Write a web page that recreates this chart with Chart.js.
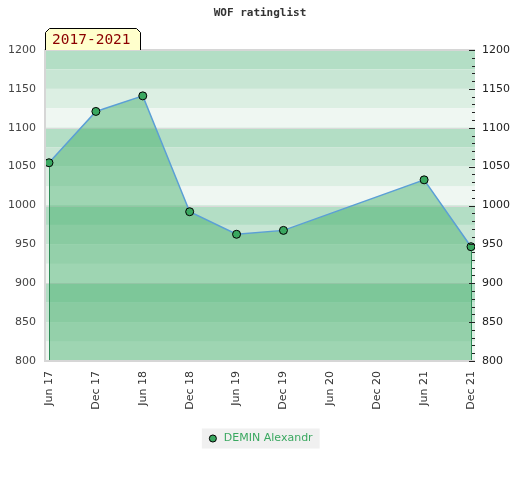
<!DOCTYPE html>
<html><head><meta charset="utf-8">
<script src="https://cdn.jsdelivr.net/npm/chart.js@4.4.1/dist/chart.umd.min.js"></script>
<style>html,body{margin:0;padding:0;background:#fff}canvas{display:block}</style></head>
<body><canvas id="c" width="520" height="480"></canvas>
<script>
const chartTitle = 'WOF ratinglist';
const periodLabel = '2017-2021';
const seriesName = 'DEMIN Alexandr';
const categories = ['Jun 17','Dec 17','Jun 18','Dec 18','Jun 19','Dec 19','Jun 20','Dec 20','Jun 21','Dec 21'];
const ratings = [1055, 1121, 1141, 992, 963, 968, null, null, 1033, 947];
const yMin = 800, yMax = 1200, yStep = 50, minorStep = 10, bandStep = 25;

const points = [];
ratings.forEach((v, i) => { if (v !== null) points.push({x: i, y: v}); });

const bandColors = ['#b3dec5', '#c8e6d4', '#dcefe3', '#eff7f2'];

const decor = {
  id: 'decor',
  beforeDraw(chart) {
    const {ctx, chartArea: a, scales: {y}} = chart;
    ctx.save();
    const lg = chart.legend;
    if (lg && lg.legendHitBoxes && lg.legendHitBoxes.length) {
      const h = lg.legendHitBoxes[0];
      const cy = h.top + h.height / 2;
      ctx.fillStyle = '#f0f0f0';
      ctx.fillRect(h.left - 5.5, cy - 10, h.width + 12.5, 20);
    }
    let k = 0;
    for (let v = yMax; v > yMin; v -= bandStep, k++) {
      const t = y.getPixelForValue(v), b = y.getPixelForValue(v - bandStep);
      ctx.fillStyle = bandColors[k % 4];
      ctx.fillRect(a.left, t, a.right - a.left, b - t);
    }
    ctx.strokeStyle = '#dadada';
    ctx.lineWidth = 1;
    for (let v = yMin + 100; v < yMax; v += 100) {
      const p = Math.round(y.getPixelForValue(v)) + 0.5;
      ctx.beginPath(); ctx.moveTo(a.left, p); ctx.lineTo(a.right, p); ctx.stroke();
    }
    ctx.restore();
  },
  afterDatasetsDraw(chart) {
    const {ctx, chartArea: a, scales: {y}} = chart;
    const meta = chart.getDatasetMeta(0);
    ctx.save();
    ctx.strokeStyle = '#2e8b57';
    ctx.lineWidth = 1;
    [meta.data[0], meta.data[meta.data.length - 1]].forEach(p => {
      const x = Math.round(p.x) + 0.5;
      ctx.beginPath(); ctx.moveTo(x, p.y + 4); ctx.lineTo(x, a.bottom); ctx.stroke();
    });
    // frame
    ctx.strokeStyle = '#d6d6d6';
    ctx.lineWidth = 2;
    ctx.beginPath();
    ctx.moveTo(a.right, a.top); ctx.lineTo(a.left, a.top); ctx.lineTo(a.left, a.bottom); ctx.lineTo(a.right, a.bottom);
    ctx.stroke();
    // right-side minor ticks
    ctx.strokeStyle = '#222';
    ctx.lineWidth = 1;
    for (let v = yMin; v <= yMax; v += minorStep) {
      const p = Math.round(y.getPixelForValue(v)) + 0.5;
      const len = (v % yStep === 0) ? 6 : 3;
      ctx.beginPath(); ctx.moveTo(a.right - len, p); ctx.lineTo(a.right, p); ctx.stroke();
    }
    ctx.restore();
  },
  afterDraw(chart) {
    const {ctx, chartArea: a} = chart;
    ctx.save();
    ctx.fillStyle = '#333';
    ctx.font = 'bold 11px "DejaVu Sans Mono"';
    ctx.textAlign = 'center';
    ctx.textBaseline = 'middle';
    ctx.fillText(chartTitle, 260, 13);
    // period box
    const L = a.left + 0.5, R = 140.5, T = 28.5, B = a.top;
    ctx.beginPath();
    ctx.moveTo(L, B); ctx.lineTo(L, T + 4); ctx.lineTo(L + 4, T); ctx.lineTo(R - 4, T); ctx.lineTo(R, T + 4); ctx.lineTo(R, B);
    ctx.fillStyle = '#ffffcc'; ctx.fill();
    ctx.strokeStyle = '#000'; ctx.lineWidth = 1; ctx.stroke();
    ctx.fillStyle = '#8b0000';
    ctx.font = '14.5px "DejaVu Sans Mono"';
    ctx.textAlign = 'left';
    ctx.textBaseline = 'middle';
    ctx.fillText(periodLabel, 52, 40);
    ctx.restore();
  }
};

new Chart(document.getElementById('c'), {
  type: 'line',
  data: {
    datasets: [{
      label: seriesName,
      data: points,
      borderColor: '#5b9fd6',
      borderWidth: 1.5,
      backgroundColor: 'rgba(60,170,100,0.45)',
      fill: 'start',
      tension: 0,
      pointRadius: 4,
      pointBackgroundColor: '#3aa860',
      pointBorderColor: '#000',
      pointBorderWidth: 1
    }]
  },
  options: {
    responsive: false,
    animation: false,
    devicePixelRatio: 1,
    layout: {padding: {top: 50, bottom: 26, left: 0, right: 0}},
    scales: {
      x: {
        type: 'linear', min: -0.085, max: 9.085,
        grid: {display: false, drawTicks: false},
        border: {display: false},
        afterFit(s) { s.height = 62; },
        ticks: {
          stepSize: 1, includeBounds: false, autoSkip: false,
          minRotation: 90, maxRotation: 90, padding: 10,
          color: '#333', font: {family: 'DejaVu Sans', size: 11},
          callback: v => categories[v] ?? ''
        }
      },
      y: {
        min: yMin, max: yMax, position: 'left',
        grid: {display: false, drawTicks: false},
        border: {display: false},
        afterFit(s) { s.width = 45; },
        ticks: {stepSize: yStep, padding: 9, color: '#444', font: {family: 'DejaVu Sans', size: 11}, callback: v => String(v)}
      },
      y2: {
        min: yMin, max: yMax, position: 'right',
        grid: {display: false, drawTicks: false},
        border: {display: false},
        afterFit(s) { s.width = 45; },
        ticks: {stepSize: yStep, padding: 7, color: '#222', font: {family: 'DejaVu Sans', size: 11}, callback: v => String(v)}
      }
    },
    plugins: {
      title: {display: false},
      tooltip: {enabled: false},
      legend: {
        display: true, position: 'bottom',
        labels: {
          usePointStyle: true, boxHeight: 5, boxWidth: 11, padding: 10,
          color: '#3aa860', font: {family: 'DejaVu Sans', size: 11},
          generateLabels(chart) {
            return Chart.defaults.plugins.legend.labels.generateLabels(chart).map(l => Object.assign(l, {
              pointStyle: 'circle', fillStyle: '#3aa860', strokeStyle: '#000', lineWidth: 1
            }));
          }
        }
      }
    }
  },
  plugins: [decor]
});
</script>
</body></html>
